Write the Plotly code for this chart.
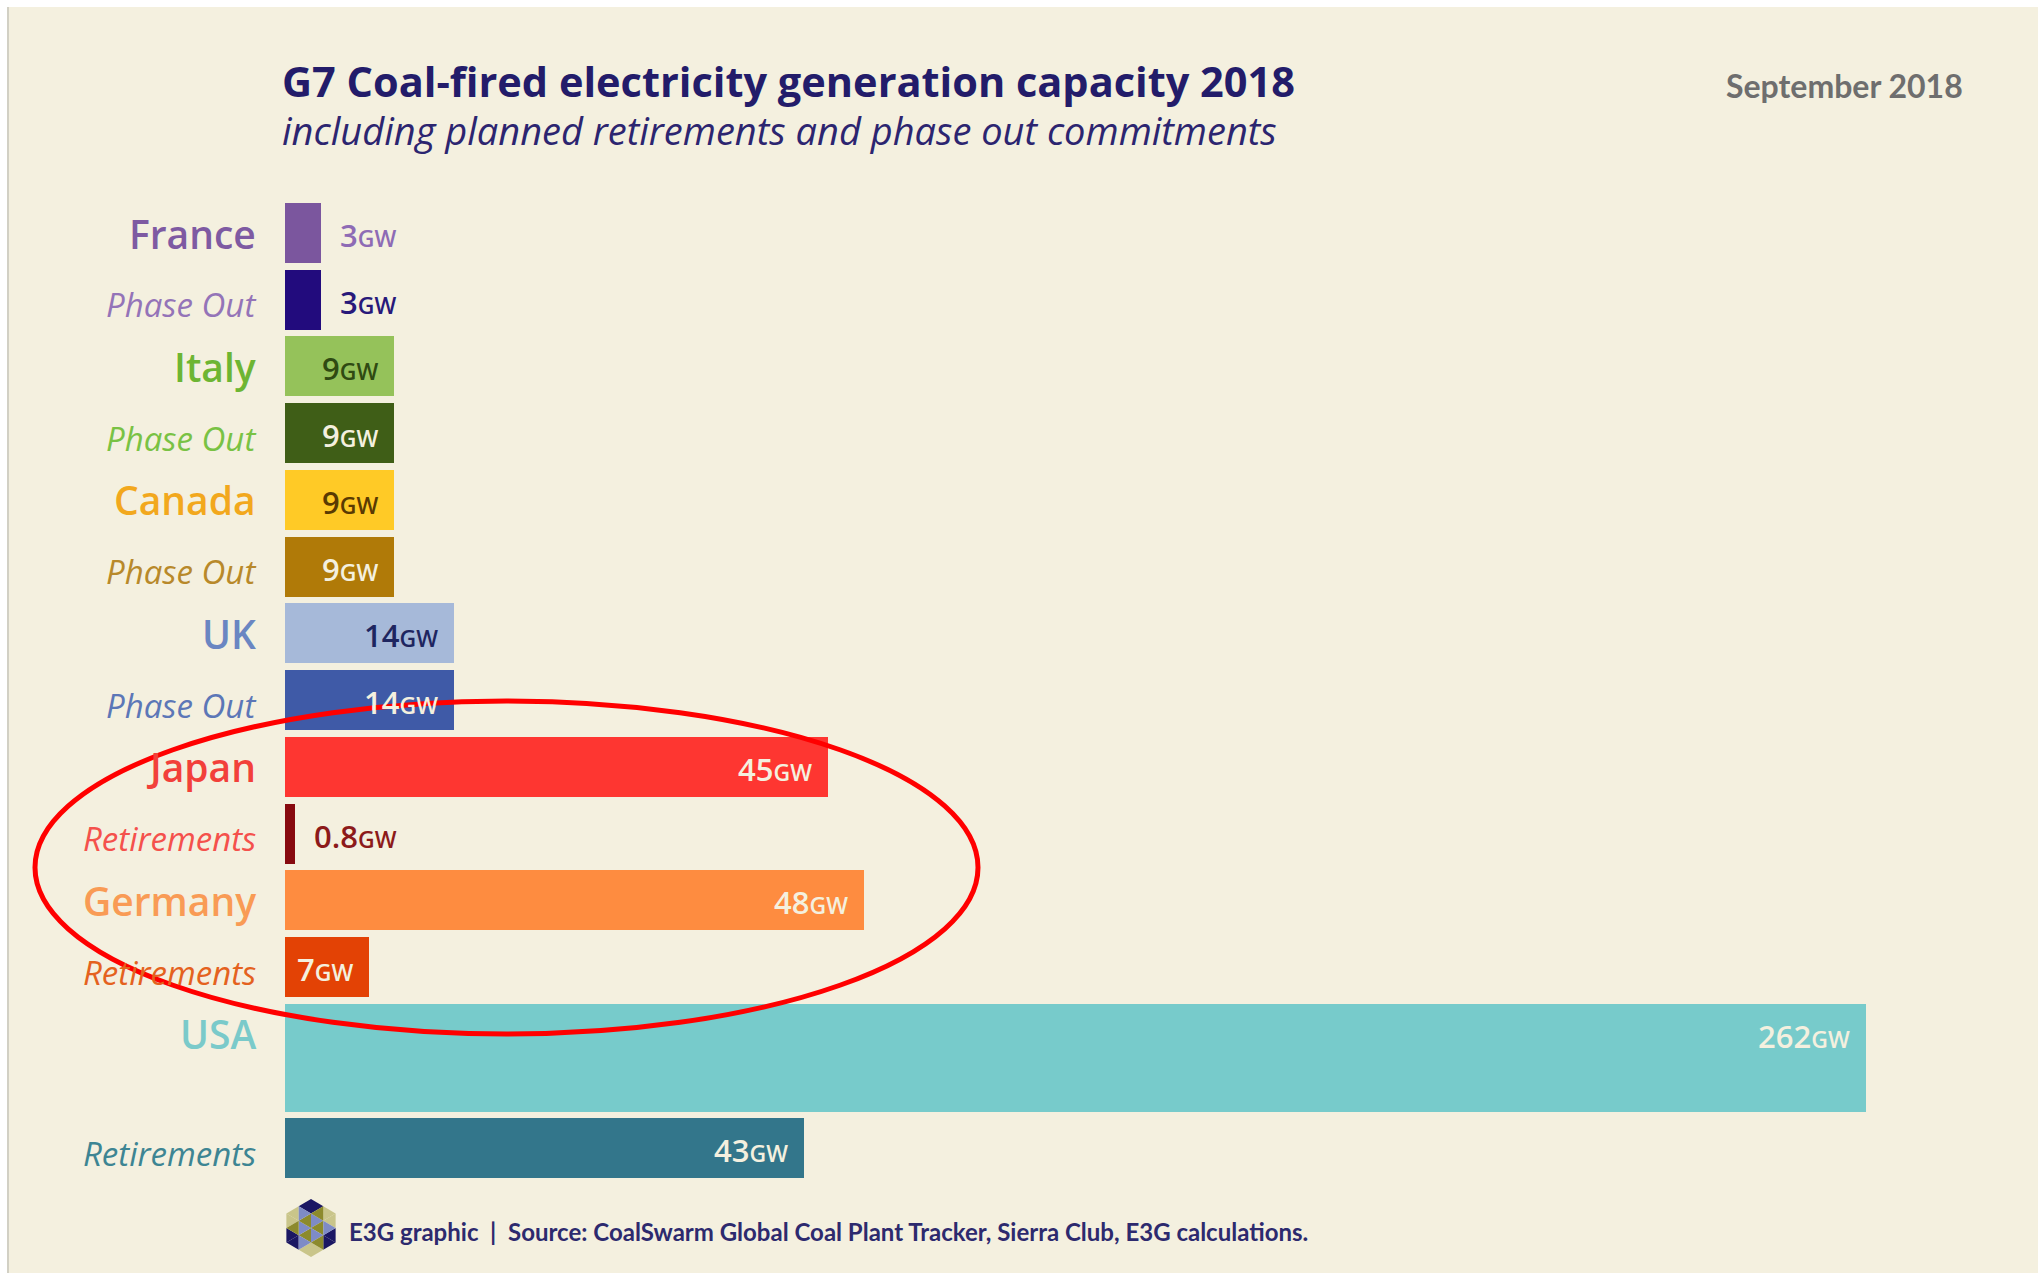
import plotly.graph_objects as go
import math

# ---------------- data ----------------
categories = ["France", "Phase Out", "Italy", "Phase Out", "Canada", "Phase Out",
              "UK", "Phase Out", "Japan", "Retirements", "Germany", "Retirements",
              "USA", "Retirements"]
capacity_gw = [3, 3, 9, 9, 9, 9, 14, 14, 45, 0.8, 48, 7, 262, 43]
is_country = [True, False, True, False, True, False, True, False,
              True, False, True, False, True, False]

title = "G7 Coal-fired electricity generation capacity 2018"
subtitle = "including planned retirements and phase out commitments"
date_text = "September 2018"
source_text = "E3G graphic  |  Source: CoalSwarm Global Coal Plant Tracker, Sierra Club, E3G calculations."

# ---------------- styles ----------------
bar_colors = ["#7B569E", "#220B7D", "#95C25A", "#3F5E17", "#FFCA26", "#B07A08",
              "#A6B9D9", "#3F5AA7", "#FE3631", "#870A0F", "#FE8C40", "#E34205",
              "#77CBCB", "#33768B"]
cat_colors = ["#7E5AA2", "#9474B8", "#6DB533", "#79C244", "#F2A81D", "#B8892A",
              "#6A86C2", "#5C77B7", "#F2403A", "#F4514C", "#F99B55", "#E4621E",
              "#7ACACA", "#3D8593"]
CREAM = "#F4F0DF"
val_colors = ["#8E6BB5", "#28197A", "#2F4A12", CREAM, "#5A3A02", CREAM,
              "#1E2560", CREAM, CREAM, "#8C1A1A", CREAM, CREAM, CREAM, CREAM]
big_row = [False] * 12 + [True, False]

W, H = 2044, 1276
ML, MR, MT, MB = 285, 178, 190, 86
PW, PH = W - ML - MR, H - MT - MB
XMAX = 131
PITCH = 66.73          # px between normal rows
BAR_PX, BIG_PX = 60.0, 108.0
FIRST_CENTER_PX = 233.0

# row geometry in "row units"
thick = [(BIG_PX if b else BAR_PX) / PITCH for b in big_row]
gap = (PITCH - BAR_PX) / PITCH
centers = []
for i, t in enumerate(thick):
    if i == 0:
        centers.append(0.0)
    else:
        centers.append(centers[-1] + thick[i - 1] / 2 + gap + t / 2)
tops = [cc - t / 2 for cc, t in zip(centers, thick)]
label_rows = [tp + (BAR_PX / PITCH) / 2 for tp in tops]

y_top = (MT - FIRST_CENTER_PX) / PITCH
y_bot = (H - MB - FIRST_CENTER_PX) / PITCH


def px(x):
    return (x - ML) / PW


def py(y):
    return (H - MB - y) / PH


fig = go.Figure()
fig.add_trace(go.Bar(
    x=capacity_gw, y=centers, width=thick, orientation="h",
    marker=dict(color=bar_colors, line=dict(width=0)),
    hoverinfo="skip", showlegend=False,
))

ann = []
LABEL_FONT = "Open Sans, Lato, sans-serif"
VAL_FONT = "Open Sans, Roboto, sans-serif"

for i, cat in enumerate(categories):
    if is_country[i]:
        txt = cat
        f = dict(family=LABEL_FONT, size=39, color=cat_colors[i], weight=600)
        ys = 0
    else:
        txt = "<i>" + cat + "</i>"
        f = dict(family=LABEL_FONT, size=33, color=cat_colors[i])
        ys = -5
    ann.append(dict(x=0, xref="paper", y=label_rows[i], yref="y", text=txt,
                    xanchor="right", yanchor="middle", xshift=-27, yshift=ys,
                    showarrow=False, font=f))
    v = capacity_gw[i]
    vtxt = f"{v:g}<span style='font-size:23px'>GW</span>"
    inside = v >= 5
    xv = min(v, XMAX)
    ann.append(dict(x=xv, xref="x", y=label_rows[i], yref="y", text=vtxt,
                    xanchor="right" if inside else "left",
                    xshift=-14 if inside else 17, yanchor="middle", yshift=-2,
                    showarrow=False,
                    font=dict(family=VAL_FONT, size=31, color=val_colors[i], weight=600)))

# titles
ann.append(dict(x=px(280), xref="paper", y=py(81), yref="paper", text="<b>" + title + "</b>",
                xanchor="left", yanchor="middle", showarrow=False,
                font=dict(family="Open Sans, sans-serif", size=41.5, color="#231C6A")))
ann.append(dict(x=px(280), xref="paper", y=py(130), yref="paper", text="<i>" + subtitle + "</i>",
                xanchor="left", yanchor="middle", showarrow=False,
                font=dict(family="Open Sans, sans-serif", size=38, color="#2C2570")))
ann.append(dict(x=px(1965), xref="paper", y=py(86), yref="paper", text="<b>" + date_text + "</b>",
                xanchor="right", yanchor="middle", showarrow=False,
                font=dict(family="Lato, sans-serif", size=32, color="#6E6E6E")))
ann.append(dict(x=px(347), xref="paper", y=py(1231), yref="paper", text="<b>" + source_text + "</b>",
                xanchor="left", yanchor="middle", showarrow=False,
                font=dict(family="Lato, sans-serif", size=24, color="#2D2A6E")))

shapes = []
shapes.append(dict(type="rect", xref="paper", yref="paper", x0=px(9), x1=px(2038),
                   y0=py(1273), y1=py(7), fillcolor=CREAM, line=dict(width=0), layer="below"))
shapes.append(dict(type="line", xref="paper", yref="paper", x0=px(8), x1=px(8),
                   y0=py(1273), y1=py(7), line=dict(color="#D2D0C4", width=2), layer="below"))

# logo (hexagon made of triangles)
cx, cy, R = 311, 1228, 29
verts = [(cx + R * 0.98 * math.cos(math.radians(-90 + 60 * k)),
          cy + R * math.sin(math.radians(-90 + 60 * k))) for k in range(6)]
logo_cols = [["#7E8BC6", "#1B1763", "#C9C58A", "#8C8A2C"],
             ["#8C8A2C", "#C9C58A", "#1B1763", "#7E8BC6"]]
for k in range(6):
    a = (cx, cy)
    b = verts[k]
    d = verts[(k + 1) % 6]
    mab = ((a[0] + b[0]) / 2, (a[1] + b[1]) / 2)
    mbd = ((b[0] + d[0]) / 2, (b[1] + d[1]) / 2)
    mad = ((a[0] + d[0]) / 2, (a[1] + d[1]) / 2)
    tris = [(a, mab, mad), (mab, b, mbd), (mad, mbd, d), (mab, mbd, mad)]
    for t, col in zip(tris, logo_cols[k % 2]):
        path = "M {} {} L {} {} L {} {} Z".format(px(t[0][0]), py(t[0][1]), px(t[1][0]), py(t[1][1]),
                                                  px(t[2][0]), py(t[2][1]))
        shapes.append(dict(type="path", xref="paper", yref="paper", path=path,
                           fillcolor=col, line=dict(width=0)))

# red ellipse
shapes.append(dict(type="circle", xref="paper", yref="paper", x0=px(35), x1=px(978),
                   y0=py(1034), y1=py(701), line=dict(color="#FF0000", width=5),
                   fillcolor="rgba(0,0,0,0)", layer="above"))

fig.update_layout(
    width=W, height=H,
    margin=dict(l=ML, r=MR, t=MT, b=MB, pad=0),
    paper_bgcolor="white", plot_bgcolor="rgba(0,0,0,0)",
    xaxis=dict(range=[0, XMAX], visible=False, fixedrange=True),
    yaxis=dict(range=[y_bot, y_top], visible=False, fixedrange=True),
    bargap=0, annotations=ann, shapes=shapes, showlegend=False,
)
fig.write_html("out.html", config={"displayModeBar": False})
